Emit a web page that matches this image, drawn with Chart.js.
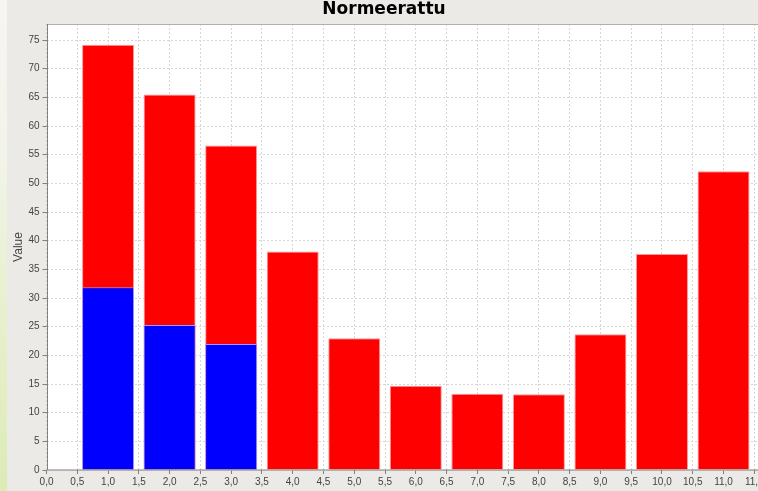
<!DOCTYPE html>
<html>
<head>
<meta charset="utf-8">
<script src="https://cdn.jsdelivr.net/npm/chart.js@4.4.0/dist/chart.umd.min.js"></script>
<style>
    html, body {
        margin: 0;
        padding: 0;
        overflow: hidden;
        background: #ebeae6;
    }
    #strip {
        position: absolute;
        left: 0;
        top: 0;
        width: 7px;
        height: 491px;
        background: linear-gradient(to bottom, #f6f6f2 0%, #f2f4ea 30%, #e6f0cc 65%, #ddebb6 100%);
    }
    #wrap {
        position: absolute;
        left: 0;
        top: 0;
        width: 766px;
        height: 491px;
    }
</style>
</head>
<body>
<div id="strip"></div>
<div id="wrap"><canvas id="histogram"></canvas></div>
<script>
// bin centres and heights
const binCentres = [1, 2, 3, 4, 5, 6, 7, 8, 9, 10, 11];
const redValues = [74.2, 65.5, 56.6, 38.1, 23.0, 14.7, 13.3, 13.2, 23.7, 37.7, 52.1];
const blueCentres = [1, 2, 3];
const blueValues = [31.9, 25.3, 22.0];

const xTicks = [0, 0.5, 1, 1.5, 2, 2.5, 3, 3.5, 4, 4.5, 5, 5.5, 6, 6.5, 7, 7.5, 8, 8.5, 9, 9.5, 10, 10.5, 11, 11.5];
const yTicks = [0, 5, 10, 15, 20, 25, 30, 35, 40, 45, 50, 55, 60, 65, 70, 75];

const tickFont = {family: 'Liberation Sans, Arial, sans-serif', size: 10};

// white plot background + grey outline like the original panel
const plotFrame = {
    id: 'plotFrame',
    beforeDraw: function (chart) {
        let a = chart.chartArea, ctx = chart.ctx;
        ctx.save();
        ctx.fillStyle = '#ffffff';
        ctx.fillRect(a.left, a.top, a.right - a.left, a.bottom - a.top);
        ctx.restore();
    },
    afterDraw: function (chart) {
        let a = chart.chartArea, ctx = chart.ctx;
        ctx.save();
        ctx.lineWidth = 1;
        ctx.strokeStyle = '#b0b0b0';
        ctx.beginPath();
        ctx.moveTo(a.left, a.top + 0.5);
        ctx.lineTo(a.right, a.top + 0.5);
        ctx.stroke();
        ctx.strokeStyle = '#808080';
        ctx.beginPath();
        ctx.moveTo(Math.round(a.left) + 0.5, a.top);
        ctx.lineTo(Math.round(a.left) + 0.5, a.bottom);
        ctx.lineTo(a.right, a.bottom);
        ctx.stroke();
        ctx.restore();
    }
};

new Chart(document.getElementById('histogram'), {
    type: 'bar',
    data: {
        datasets: [
            {
                label: 'blue',
                data: blueCentres.map((x, i) => ({x: x, y: blueValues[i]})),
                backgroundColor: '#0000ff',
                borderColor: '#9a9aff',
                borderWidth: 1,
                order: 0
            },
            {
                label: 'red',
                data: binCentres.map((x, i) => ({x: x, y: redValues[i]})),
                backgroundColor: '#ff0000',
                borderColor: '#ff9a9a',
                borderWidth: 1,
                order: 1
            }
        ]
    },
    options: {
        responsive: true,
        maintainAspectRatio: false,
        animation: false,
        grouped: false,
        // min gap is taken from the 0.5 ticks, so this gives ~84% of a bin
        barPercentage: 1.69,
        categoryPercentage: 1,
        layout: {padding: {left: 2, right: 0, top: 0, bottom: 1}},
        plugins: {
            legend: {display: false},
            tooltip: {enabled: false},
            title: {
                display: true,
                text: 'Normeerattu',
                color: '#000000',
                font: {family: 'DejaVu Sans, sans-serif', size: 17, weight: 'bold', lineHeight: 1},
                padding: {top: 1, bottom: 6}
            }
        },
        scales: {
            x: {
                type: 'linear',
                offset: false,
                min: 0,
                max: 11.69,
                afterBuildTicks: function (scale) {
                    scale.ticks = xTicks.map(v => ({value: v}));
                },
                ticks: {
                    autoSkip: false,
                    maxRotation: 0,
                    padding: 2,
                    color: '#444444',
                    font: tickFont,
                    callback: v => v.toFixed(1).replace('.', ',')
                },
                grid: {
                    offset: false,
                    color: '#d6d6d6',
                    tickColor: '#808080',
                    tickLength: 4,
                    tickBorderDash: []
                },
                border: {display: false, dash: [2, 2]}
            },
            y: {
                min: 0,
                max: 77.8,
                afterBuildTicks: function (scale) {
                    scale.ticks = yTicks.map(v => ({value: v}));
                },
                ticks: {
                    padding: 3,
                    color: '#444444',
                    font: tickFont
                },
                grid: {
                    color: '#d6d6d6',
                    tickColor: '#808080',
                    tickLength: 4,
                    tickBorderDash: []
                },
                border: {display: false, dash: [2, 2]},
                title: {
                    display: true,
                    text: 'Value',
                    color: '#444444',
                    padding: {top: 9, bottom: 0},
                    font: {family: 'Liberation Sans, Arial, sans-serif', size: 12}
                }
            }
        }
    },
    plugins: [plotFrame]
});
</script>
</body>
</html>
